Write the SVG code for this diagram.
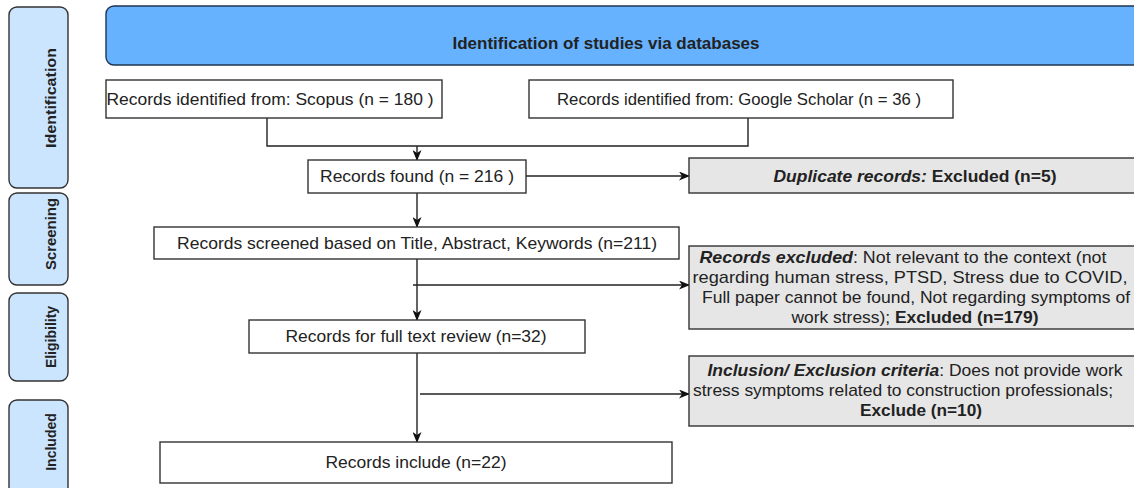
<svg xmlns="http://www.w3.org/2000/svg" width="1134" height="488" viewBox="0 0 1134 488">
<defs>
<marker id="arr" markerWidth="11" markerHeight="9" refX="10" refY="4.5" orient="auto" markerUnits="userSpaceOnUse"><path d="M0,0 L11,4.5 L0,9 L3,4.5 z" fill="#111"/></marker>
<style>
.t{font-family:"Liberation Sans",Arial,sans-serif;font-size:17px;fill:#222}
.s{font-family:"Liberation Sans",Arial,sans-serif;font-size:14px;font-weight:bold;fill:#222}
.b{font-weight:bold}
.bi{font-weight:bold;font-style:italic}
.box{fill:#fff;stroke:#333;stroke-width:1.4}
.gray{fill:#e6e6e6;stroke:#333;stroke-width:1.4}
.side{fill:#cce5ff;stroke:#333;stroke-width:1.4}
.ln{fill:none;stroke:#222;stroke-width:1.4}
</style>
</defs>
<rect width="1134" height="488" fill="#fff"/>

<g id="side-identification"><rect class="side" x="9" y="7" width="59" height="181" rx="8"/><text class="s" transform="translate(56,98) rotate(-90)" text-anchor="middle" textLength="100" lengthAdjust="spacingAndGlyphs">Identification</text></g>
<g id="side-screening"><rect class="side" x="9" y="193" width="59" height="92" rx="8"/><text class="s" transform="translate(56,234) rotate(-90)" text-anchor="middle" textLength="72" lengthAdjust="spacingAndGlyphs">Screening</text></g>
<g id="side-eligibility"><rect class="side" x="9" y="293" width="59" height="88" rx="8"/><text class="s" transform="translate(56,337) rotate(-90)" text-anchor="middle">Eligibility</text></g>
<g id="side-included"><rect class="side" x="9" y="400" width="59" height="100" rx="8"/><text class="s" transform="translate(56,442) rotate(-90)" text-anchor="middle">Included</text></g>

<g id="banner"><rect x="106" y="6" width="1100" height="59" rx="8" fill="#66b2ff" stroke="#1f3550" stroke-width="1.4"/><text class="t b" x="606" y="49" font-size="15" text-anchor="middle" fill="#111">Identification of studies via databases</text></g>

<g id="connectors">
<path class="ln" d="M267,118 V146 H748 V118"/>
<path class="ln" d="M417,146 V160" marker-end="url(#arr)"/>
<path class="ln" d="M526,176 H689" marker-end="url(#arr)"/>
<path class="ln" d="M417,193 V227" marker-end="url(#arr)"/>
<path class="ln" d="M417,259 V320" marker-end="url(#arr)"/>
<path class="ln" d="M413,285 H689" marker-end="url(#arr)"/>
<path class="ln" d="M417,353 V442" marker-end="url(#arr)"/>
<path class="ln" d="M420,394 H689" marker-end="url(#arr)"/>
</g>

<g id="scopus"><rect class="box" x="106" y="80" width="336" height="38"/><text class="t" x="270" y="105" text-anchor="middle" textLength="327" lengthAdjust="spacingAndGlyphs">Records identified from: Scopus (n = 180 )</text></g>
<g id="google"><rect class="box" x="529" y="80" width="424" height="38"/><text class="t" x="739" y="105" text-anchor="middle" textLength="364" lengthAdjust="spacingAndGlyphs">Records identified from: Google Scholar (n = 36 )</text></g>
<g id="found"><rect class="box" x="308" y="160" width="218" height="33"/><text class="t" x="417" y="182" text-anchor="middle" textLength="194" lengthAdjust="spacingAndGlyphs">Records found (n = 216 )</text></g>
<g id="duplicate"><rect class="gray" x="689" y="158" width="460" height="35"/><text class="t" x="915" y="182" text-anchor="middle" textLength="283" lengthAdjust="spacingAndGlyphs"><tspan class="bi">Duplicate records:</tspan><tspan class="b"> Excluded (n=5)</tspan></text></g>
<g id="screened"><rect class="box" x="154" y="227" width="525" height="32"/><text class="t" x="417" y="249" text-anchor="middle" textLength="480" lengthAdjust="spacingAndGlyphs">Records screened based on Title, Abstract, Keywords (n=211)</text></g>
<g id="excluded"><rect class="gray" x="689" y="246" width="460" height="83"/>
<text class="t" x="903" y="263" text-anchor="middle" textLength="407" lengthAdjust="spacingAndGlyphs"><tspan class="bi">Records excluded</tspan>: Not relevant to the context (not</text>
<text class="t" x="910" y="283" text-anchor="middle" textLength="435" lengthAdjust="spacingAndGlyphs">regarding human stress, PTSD, Stress due to COVID,</text>
<text class="t" x="916" y="303" text-anchor="middle" textLength="428" lengthAdjust="spacingAndGlyphs">Full paper cannot be found, Not regarding symptoms of</text>
<text class="t" x="915" y="323" text-anchor="middle" textLength="247" lengthAdjust="spacingAndGlyphs">work stress); <tspan class="b">Excluded (n=179)</tspan></text>
</g>
<g id="fulltext"><rect class="box" x="249" y="320" width="336" height="33"/><text class="t" x="416" y="342" text-anchor="middle" textLength="261" lengthAdjust="spacingAndGlyphs">Records for full text review (n=32)</text></g>
<g id="inclusion"><rect class="gray" x="689" y="356" width="460" height="70"/>
<text class="t" x="915" y="376" text-anchor="middle" textLength="415" lengthAdjust="spacingAndGlyphs"><tspan class="bi">Inclusion/ Exclusion criteria</tspan>: Does not provide work</text>
<text class="t" x="693" y="396" textLength="420" lengthAdjust="spacingAndGlyphs">stress symptoms related to construction professionals;</text>
<text class="t b" x="921" y="416" text-anchor="middle" textLength="122" lengthAdjust="spacingAndGlyphs">Exclude (n=10)</text>
</g>
<g id="include"><rect class="box" x="160" y="442" width="512" height="41"/><text class="t" x="416" y="468" text-anchor="middle" textLength="181" lengthAdjust="spacingAndGlyphs">Records include (n=22)</text></g>
</svg>
